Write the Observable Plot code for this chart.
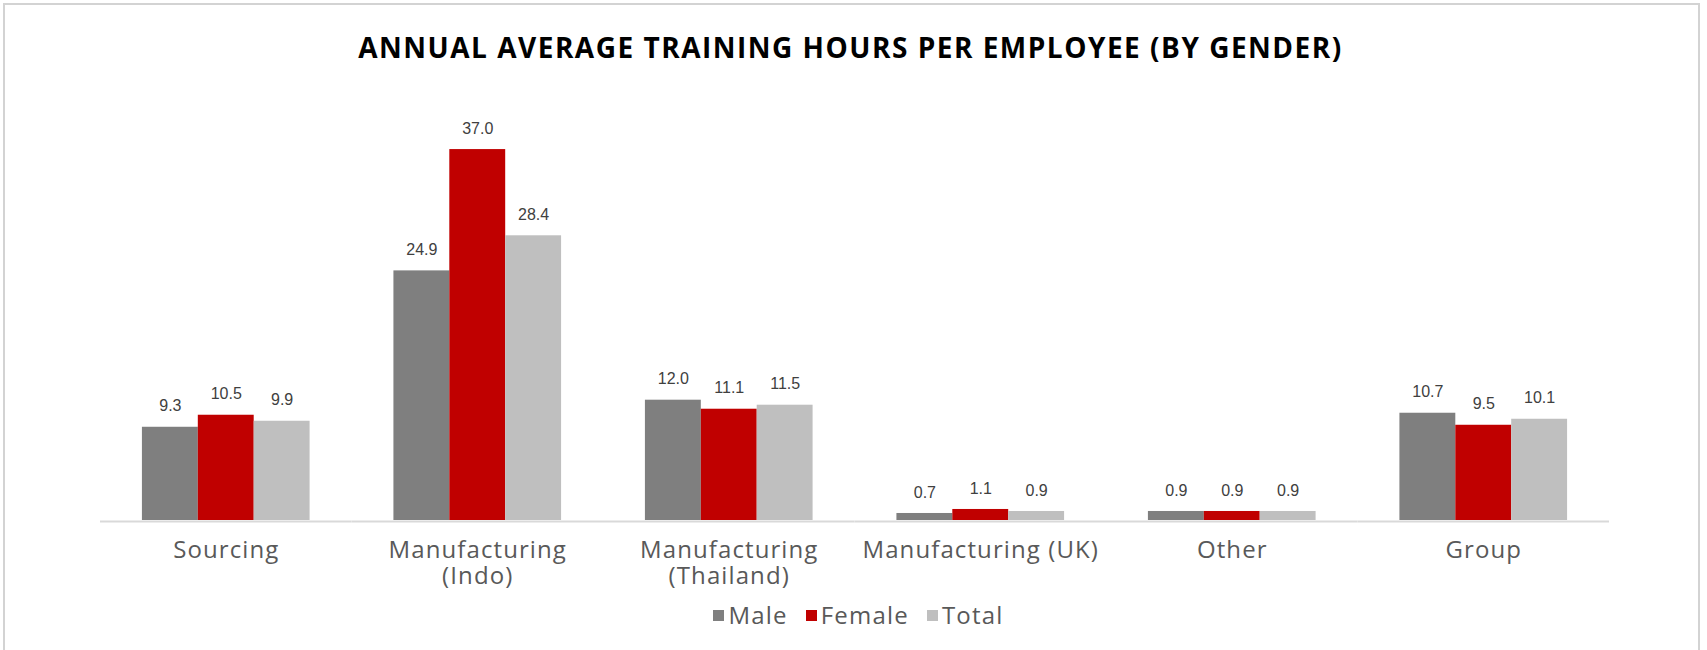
<!DOCTYPE html>
<html>
<head>
<meta charset="utf-8">
<script src="https://cdn.jsdelivr.net/npm/d3@7"></script>
<script src="https://cdn.jsdelivr.net/npm/@observablehq/plot@0.6"></script>
<style>
  html, body { margin: 0; padding: 0; background: #fff; }
  body { width: 1707px; height: 650px; position: relative; overflow: hidden; }
  #frame { position: absolute; left: 3px; top: 3px; width: 1697px; height: 720px; border: 2px solid #d3d3d3; box-sizing: border-box; }
  #title { position: absolute; left: 0; top: 33px; width: 1701px; text-align: center; font-family: "Open Sans", sans-serif; font-weight: 700; font-size: 28px; line-height: 28px; color: #000; white-space: nowrap; }
  #title span { display: inline-block; }
  #chart { position: absolute; left: 0; top: 0; }
  #legend { position: absolute; left: 0; top: 601px; width: 1717px; display: flex; justify-content: center; align-items: center; font-family: "Open Sans", sans-serif; font-size: 24px; line-height: 28px; color: #595959; letter-spacing: 1.2px; }
  #legend .item { display: flex; align-items: center; margin: 0 9px; }
  #legend .sw { width: 11px; height: 11px; margin-right: 4px; }
</style>
</head>
<body>
<div id="frame"></div>
<div id="title"><span id="titleText">ANNUAL AVERAGE TRAINING HOURS PER EMPLOYEE (BY GENDER)</span></div>
<div id="chart"></div>
<div id="legend"></div>
<script>
const categories = ["Sourcing", "Manufacturing\n(Indo)", "Manufacturing\n(Thailand)", "Manufacturing (UK)", "Other", "Group"];
const series = ["Male", "Female", "Total"];
const male   = [9.3, 24.9, 12.0, 0.7, 0.9, 10.7];
const female = [10.5, 37.0, 11.1, 1.1, 0.9, 9.5];
const total  = [9.9, 28.4, 11.5, 0.9, 0.9, 10.1];
const colors = ["#7f7f7f", "#c00000", "#bfbfbf"];

const values = [male, female, total];
const data = categories.flatMap((c, i) => series.map((s, j) => ({category: c, series: s, value: values[j][i]})));

const plot = Plot.plot({
  width: 1707,
  height: 650,
  marginLeft: 100,
  marginRight: 98,
  marginTop: 119,
  marginBottom: 130,
  style: {background: "transparent", overflow: "visible"},
  fx: {domain: categories, padding: 0, round: false},
  x: {domain: series, paddingInner: 0, paddingOuter: 0.75, round: false, axis: null},
  y: {domain: [0, 40], axis: null},
  color: {domain: series, range: colors},
  marks: [
    Plot.barY(data, {fx: "category", x: "series", y: "value", fill: "series"}),
    Plot.ruleY([0], {stroke: "#d9d9d9", strokeWidth: 2, dy: 1}),
    Plot.text(data, {
      fx: "category", x: "series", y: "value",
      text: d => d.value.toFixed(1),
      dy: -21, lineAnchor: "middle",
      fontSize: 16, fill: "#404040",
      fontFamily: "'Liberation Sans', Arial, sans-serif"
    }),
    Plot.axisFx({
      anchor: "bottom", label: null, tickSize: 0, tickPadding: 19,
      fontSize: 24, lineHeight: 1.09, fill: "#595959",
      fontFamily: "'Open Sans', sans-serif"
    })
  ]
});
document.getElementById("chart").append(plot);
d3.select(plot).selectAll('g[aria-label="fx-axis tick label"] text').style("letter-spacing", "1.1px");

// legend
const legend = document.getElementById("legend");
series.forEach((s, i) => {
  const item = document.createElement("div");
  item.className = "item";
  const sw = document.createElement("div");
  sw.className = "sw";
  sw.style.background = colors[i];
  const lab = document.createElement("span");
  lab.textContent = s;
  item.append(sw, lab);
  legend.append(item);
});

// fit title width to reference
const tt = document.getElementById("titleText");
const target = 983;
const w = tt.getBoundingClientRect().width;
const n = tt.textContent.length - 1;
tt.style.letterSpacing = ((target - w) / n) + "px";
</script>
</body>
</html>
